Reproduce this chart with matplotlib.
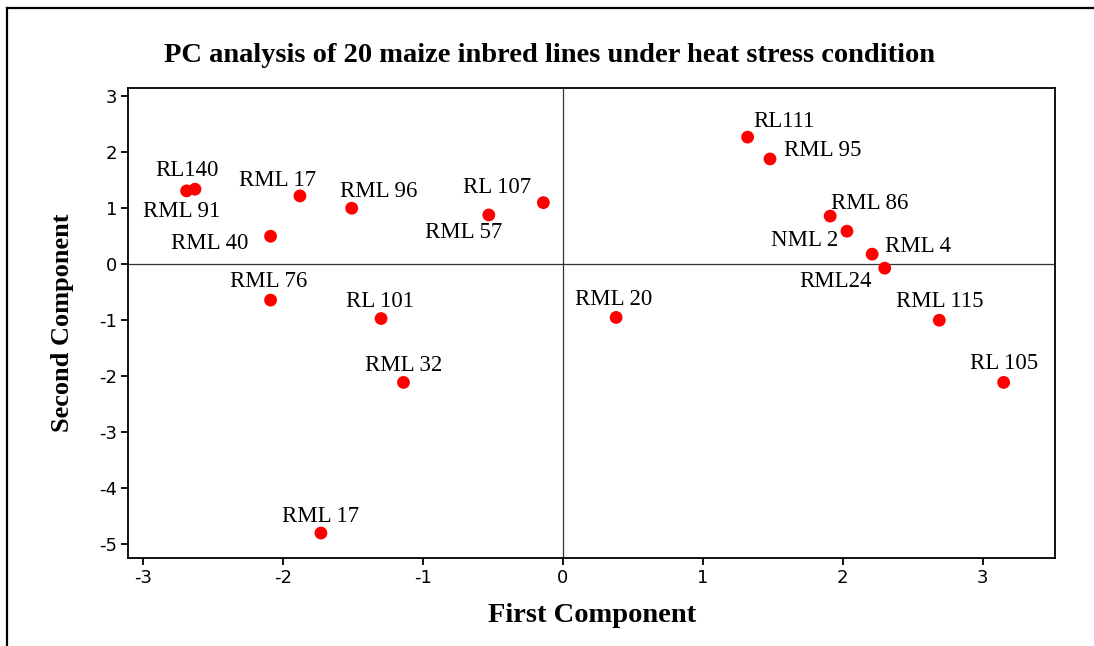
import numpy as np
import matplotlib
matplotlib.use("Agg")
import matplotlib.pyplot as plt
from matplotlib.lines import Line2D

# PC scores
lines = ["RL140", "RML 91", "RML 17", "RML 96", "RL 107", "RML 57", "RML 40",
         "RML 76", "RL 101", "RML 32", "RML 17", "RL111", "RML 95", "RML 86",
         "NML 2", "RML 4", "RML24", "RML 20", "RML 115", "RL 105"]
pc1 = [-2.69, -2.63, -1.88, -1.51, -0.14, -0.53, -2.09,
       -2.09, -1.30, -1.14, -1.73, 1.32, 1.48, 1.91,
       2.03, 2.21, 2.30, 0.38, 2.69, 3.15]
pc2 = [1.30, 1.33, 1.21, 0.99, 1.09, 0.87, 0.49,
       -0.65, -0.98, -2.12, -4.81, 2.26, 1.87, 0.85,
       0.58, 0.17, -0.08, -0.96, -1.01, -2.12]

x_ticks = [-3, -2, -1, 0, 1, 2, 3]
y_ticks = [-5, -4, -3, -2, -1, 0, 1, 2, 3]

# label placement relative to each point, in pixels (layout only)
label_off = [(0, 20), (-13, -22), (-22, 15), (27, 17), (-46, 15), (-25, -18), (-61, -7),
             (-2, 19), (-1, 17), (0, 17), (0, 17), (36, 16), (53, 8), (40, 13),
             (-42, -9), (46, 8), (-49, -13), (-2, 18), (0, 19), (0, 19)]

SERIF = "Liberation Serif"

fig = plt.figure(figsize=(10.94, 6.46), dpi=100)
ax = fig.add_axes([0.117, 0.1358, 0.8476, 0.728])

ax.axhline(0, color="#333333", lw=0.9, zorder=1)
ax.axvline(0, color="#333333", lw=0.9, zorder=1)
ax.scatter(pc1, pc2, s=85, color="#ff0000", edgecolors="none", zorder=3)

for name, x, y, (dx, dy) in zip(lines, pc1, pc2, label_off):
    ax.annotate(name, (x, y), xytext=(dx, dy), textcoords="offset pixels",
                ha="center", va="center", fontsize=16.5, family=SERIF, color="black")

ax.set_xlim(-3.109, 3.519)
ax.set_ylim(-5.26, 3.137)
ax.set_xticks(x_ticks)
ax.set_yticks(y_ticks)
ax.set_xticklabels([str(t) for t in x_ticks])
ax.set_yticklabels([str(t) for t in y_ticks])
ax.tick_params(direction="out", length=5, width=1.3, labelsize=13, colors="black", pad=3)
for lab in ax.get_xticklabels() + ax.get_yticklabels():
    lab.set_family("DejaVu Sans")
for sp in ax.spines.values():
    sp.set_linewidth(1.3)
    sp.set_color("black")

ax.set_xlabel("First Component", fontsize=20.5, fontweight="bold", family=SERIF, labelpad=11)
ax.set_ylabel("Second Component", fontsize=19, fontweight="bold", family=SERIF, labelpad=18)

fig.text(0.502, 1 - 55 / 646, "PC analysis of 20 maize inbred lines under heat stress condition",
         ha="center", va="center", fontsize=20.5, fontweight="bold", family=SERIF)

# outer frame: only left and top edges are visible
fig.add_artist(Line2D([7 / 1094, 7 / 1094], [0, 1 - 8 / 646], transform=fig.transFigure,
                      color="black", lw=1.6))
fig.add_artist(Line2D([7 / 1094, 1], [1 - 8 / 646, 1 - 8 / 646], transform=fig.transFigure,
                      color="black", lw=1.6))

fig.savefig("out.png", dpi=100)
